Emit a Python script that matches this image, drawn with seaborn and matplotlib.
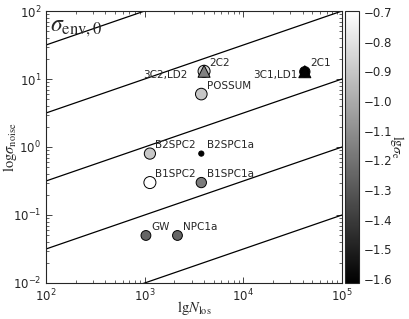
import numpy as np
import pandas as pd
import matplotlib
matplotlib.use("Agg")
import matplotlib.pyplot as plt
import seaborn as sns

# ---- data ----
names = ["2C2", "POSSUM", "B2SPC2", "B2SPC1a", "B1SPC2", "B1SPC1a", "GW", "NPC1a", "2C1"]
n_los = [4000, 3750, 1130, 3750, 1130, 3750, 1030, 2150, 42000]
sigma_noise = [13.0, 6.0, 0.8, 0.8, 0.3, 0.3, 0.05, 0.05, 12.8]
lg_sigma_e = [-0.85, -0.9, -0.9, -1.6, -0.7, -1.17, -1.25, -1.25, -1.6]
sizes = [75, 70, 65, 14, 75, 55, 50, 50, 55]

tri_names = ["3C2,LD2", "3C1,LD1"]
tri_n_los = [4000, 42000]
tri_sigma = [13.0, 12.8]
tri_lg_sigma_e = [-1.15, -1.6]

line_k = [1, 0, -1, -2, -3]   # sigma = 10^k * sqrt(N/10)

vmin, vmax = -1.613, -0.697

sns.set_style("ticks")
plt.rcParams.update({
    "font.family": ["DejaVu Sans"],
    "mathtext.fontset": "stix",
    "xtick.direction": "in",
    "ytick.direction": "in",
    "xtick.top": True,
    "ytick.right": True,
    "xtick.labelsize": 8.5,
    "ytick.labelsize": 8.5,
})

fig = plt.figure(figsize=(4.09, 3.19), dpi=100)
ax = fig.add_axes([46/409, 1-283/319, (342-46)/409, (283-11)/319])
cax = fig.add_axes([345/409, 1-283/319, 14/409, (283-11)/319])

cmap = plt.get_cmap("gray")
norm = plt.Normalize(vmin, vmax)

# guide lines
nn = np.logspace(2, 5, 200)
for k in line_k:
    ax.plot(nn, 10.0**k * np.sqrt(nn/10.0), color="black", lw=0.9, zorder=1)

df = pd.DataFrame({"name": names, "N": n_los, "s": sigma_noise, "e": lg_sigma_e, "size": sizes})
sns.scatterplot(data=df, x="N", y="s", hue="e", palette="gray", hue_norm=(vmin, vmax),
                size="size", sizes=(min(sizes), max(sizes)), size_norm=(min(sizes), max(sizes)),
                edgecolor="black", linewidth=0.7, legend=False, ax=ax, zorder=3)

dft = pd.DataFrame({"name": tri_names, "N": tri_n_los, "s": tri_sigma, "e": tri_lg_sigma_e})
sns.scatterplot(data=dft, x="N", y="s", hue="e", palette="gray", hue_norm=(vmin, vmax),
                marker="^", s=75, edgecolor="black", linewidth=0.7, legend=False, ax=ax, zorder=4)

for nm, x, y in zip(names, n_los, sigma_noise):
    ax.annotate(nm, (x, y), xytext=(4, 2.5), textcoords="offset points",
                ha="left", va="bottom", fontsize=7.5)
tri_off = [(-12, -2.5), (-5, -2.5)]
for nm, x, y, off in zip(tri_names, tri_n_los, tri_sigma, tri_off):
    ax.annotate(nm, (x, y), xytext=off, textcoords="offset points",
                ha="right", va="center", fontsize=7.5)

ax.set_xscale("log")
ax.set_yscale("log")
ax.set_xlim(1e2, 1e5)
ax.set_ylim(1e-2, 1e2)
ax.set_xlabel(r"$\mathrm{lg}N_{\mathrm{los}}$", fontsize=10.5)
ax.set_ylabel(r"$\mathrm{log}\sigma_{\mathrm{noise}}$", fontsize=10.5)
ax.xaxis.set_label_coords(0.5, -0.058)
ax.yaxis.set_label_coords(-0.09, 0.5)
ax.xaxis.label.set_va("top")
ax.yaxis.label.set_va("bottom")
ax.text(0.012, 0.985, r"$\sigma_{\mathrm{env,0}}$", transform=ax.transAxes,
        ha="left", va="top", fontsize=17)
for sp in ax.spines.values():
    sp.set_linewidth(0.8)
ax.tick_params(which="major", length=4, width=0.6)
ax.tick_params(which="minor", length=2, width=0.5)

sm = matplotlib.cm.ScalarMappable(norm=norm, cmap=cmap)
cb = fig.colorbar(sm, cax=cax)
cb.set_ticks([-0.7, -0.8, -0.9, -1.0, -1.1, -1.2, -1.3, -1.4, -1.5, -1.6])
cb.ax.tick_params(labelsize=8.5, direction="in", length=4, width=0.6)
cb.set_label(r"$\mathrm{lg}\sigma_{\mathrm{e}}$", rotation=270, labelpad=10, fontsize=10)
cb.outline.set_linewidth(0.8)

fig.savefig("out.png", dpi=100)
